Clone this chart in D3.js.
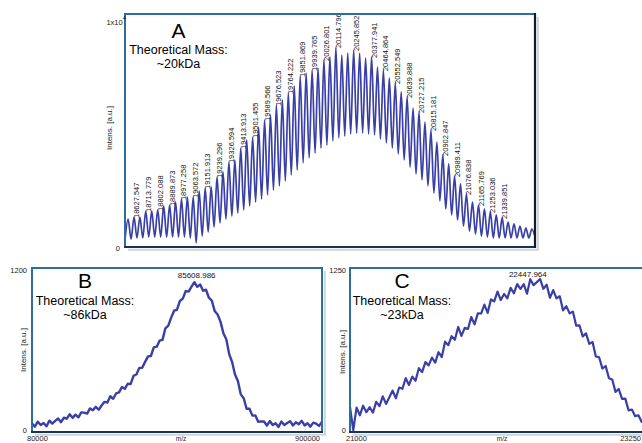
<!DOCTYPE html>
<html>
<head>
<meta charset="utf-8">
<script src="https://cdn.jsdelivr.net/npm/d3@7/dist/d3.min.js"></script>
<style>
  html, body { margin:0; padding:0; background:#fff; }
  svg { display:block; }
  text { font-family: "Liberation Sans", Arial, Helvetica, sans-serif; }
</style>
</head>
<body>
<svg id="chart" width="642" height="443"></svg>
<script>
// ================= DATA =================
// ---- Panel A (m/z trace: alternating peak tops and valleys) ----
const aMz = [18561, 18583.8, 18605.7, 18627.547, 18649.1, 18670.7, 18692.2, 18713.779, 18735.9, 18758.0, 18780.0, 18802.088, 18824.0, 18846.0, 18867.9, 18889.873, 18911.7, 18933.6, 18955.4, 18977.258, 18998.8, 19020.4, 19042.0, 19063.572, 19085.6, 19107.7, 19129.8, 19151.913, 19173.8, 19195.6, 19217.4, 19239.296, 19261.1, 19283.0, 19304.8, 19326.594, 19348.4, 19370.3, 19392.1, 19413.913, 19435.8, 19457.7, 19479.6, 19501.455, 19523.5, 19545.5, 19567.5, 19589.566, 19611.3, 19633.0, 19654.8, 19676.523, 19698.5, 19720.4, 19742.3, 19764.222, 19786.1, 19808.0, 19829.9, 19851.869, 19873.8, 19895.8, 19917.8, 19939.765, 19961.5, 19983.3, 20005.0, 20026.801, 20048.8, 20070.8, 20092.8, 20114.796, 20136.6, 20158.5, 20180.3, 20202.2, 20224.0, 20245.852, 20267.9, 20289.9, 20311.9, 20333.9, 20355.9, 20377.941, 20399.7, 20421.4, 20443.1, 20464.864, 20486.8, 20508.7, 20530.6, 20552.549, 20574.4, 20596.2, 20618.0, 20639.888, 20661.7, 20683.6, 20705.4, 20727.215, 20749.2, 20771.2, 20793.2, 20815.181, 20837.1, 20859.0, 20880.9, 20902.847, 20924.5, 20946.1, 20967.8, 20989.411, 21011.3, 21033.1, 21055.0, 21076.838, 21099.1, 21121.3, 21143.5, 21165.769, 21187.6, 21209.4, 21231.2, 21253.036, 21274.7, 21296.4, 21318.1, 21339.851, 21361.7, 21383.6, 21405.5, 21427.4, 21449.2, 21471.1, 21493.0, 21514.9, 21536.7, 21558.6, 21582];
const aIntens = [260, 1170, 300, 1260, 350, 1260, 350, 1520, 390, 1520, 390, 1570, 390, 1740, 390, 1780, 390, 1910, 390, 2040, 390, 2130, 350, 2130, 130, 2390, 430, 2520, 610, 2570, 830, 3000, 1000, 3220, 1170, 3650, 1300, 3740, 1430, 4260, 1570, 4610, 1740, 4740, 1910, 5170, 2040, 5480, 2220, 5700, 2430, 6130, 2610, 6350, 2830, 6650, 3090, 6960, 3300, 7390, 3610, 7520, 3830, 7650, 4040, 7740, 4260, 8090, 4390, 8220, 4570, 8650, 4700, 8300, 4780, 8390, 4870, 8520, 4910, 8390, 4910, 8170, 4870, 8220, 4830, 7780, 4650, 7650, 4480, 7300, 4260, 7090, 4000, 6700, 3740, 6480, 3430, 6000, 3130, 5830, 2870, 5390, 2610, 5040, 2300, 4520, 1960, 3960, 1610, 3570, 1350, 3040, 1130, 2700, 870, 2260, 650, 1910, 520, 1780, 430, 1610, 390, 1480, 350, 1350, 350, 1220, 350, 1040, 350, 960, 350, 870, 350, 780, 350, 740, 400];
const aPeakLabels = ["18627.547", "18713.779", "18802.088", "18889.873", "18977.258", "19063.572", "19151.913", "19239.296", "19326.594", "19413.913", "19501.455", "19589.566", "19676.523", "19764.222", "19851.869", "19939.765", "20026.801", "20114.796", "20245.852", "20377.941", "20464.864", "20552.549", "20639.888", "20727.215", "20815.181", "20902.847", "20989.411", "21076.838", "21165.769", "21253.036", "21339.851"];
const aYTicks = [0, 10000];
const aTitle = ["A", "Theoretical Mass:", "~20kDa"];

// ---- Panel B ----
const bMzStart = 80000;
const bMzStep = 100;
const bIntens = [50, 25, 62, 37, 52, 28, 70, 48, 68, 86, 59, 92, 85, 118, 91, 115, 95, 132, 130, 123, 162, 148, 174, 152, 184, 211, 206, 253, 234, 274, 282, 322, 309, 347, 344, 406, 416, 466, 467, 511, 552, 555, 620, 625, 670, 676, 763, 783, 843, 895, 902, 968, 985, 1042, 1038, 1075, 1108, 1074, 1092, 1044, 1052, 992, 971, 892, 866, 813, 726, 681, 569, 510, 417, 368, 267, 238, 159, 159, 108, 110, 62, 65, 64, 33, 67, 38, 50, 23, 64, 38, 53, 66, 34, 58, 43, 69, 34, 51, 25, 55, 47, 31, 62];
const bXTicks = [80000, 90000];
const bXTickLabels = ["80000", "900000"];
const bYTicks = [0, 1200];
const bPeakMz = 85608.986;
const bPeakLabel = "85608.986";
const bTitle = ["B", "Theoretical Mass:", "~86kDa"];

// ---- Panel C ----
const cMzStart = 21000;
const cMzStep = 25;
const cIntens = [180, 0, 175, 115, 190, 139, 178, 136, 220, 186, 263, 204, 255, 308, 248, 332, 322, 405, 352, 417, 385, 483, 452, 530, 505, 566, 527, 608, 570, 690, 663, 733, 705, 805, 735, 798, 790, 883, 825, 911, 910, 980, 915, 1020, 1005, 1081, 1015, 1063, 1028, 1110, 1068, 1140, 1102, 1140, 1065, 1178, 1132, 1155, 1180, 1103, 1135, 1033, 1093, 1028, 1045, 934, 968, 911, 925, 816, 818, 731, 755, 673, 687, 575, 568, 480, 500, 405, 395, 298, 320, 243, 245, 153, 160, 108, 115, 63, 65];
const cXTicks = [21000, 23250];
const cXTickLabels = ["21000", "23250"];
const cYTicks = [0, 1250];
const cPeakMz = 22447.964;
const cPeakLabel = "22447.964";
const cTitle = ["C", "Theoretical Mass:", "~23kDa"];

const yAxisTitle = "Intens. [a.u.]";
const xAxisTitle = "m/z";

// ================= DRAW =================
const svg = d3.select("#chart");
const defs = svg.append("defs");
const lineColor = "#3a3fa6";
const tickColor = "#222";

function clip(id, x0, y0, x1, y1) {
  defs.append("clipPath").attr("id", id).append("rect")
    .attr("x", x0).attr("y", y0).attr("width", x1 - x0).attr("height", y1 - y0);
  return "url(#" + id + ")";
}

function drawFrame(x0, y0, x1, y1, darkRight) {
  const g = svg.append("g");
  g.append("path")
    .attr("d", `M${x1 + 2.8},${y0 + 3}V${y1 + 2.8}H${x0 + 3}`)
    .attr("fill", "none").attr("stroke", "#cfd4da").attr("stroke-width", 2);
  g.append("rect").attr("x", x0).attr("y", y0)
    .attr("width", x1 - x0).attr("height", y1 - y0)
    .attr("fill", "none").attr("stroke", "#2d6e9c").attr("stroke-width", 2);
  g.append("line").attr("x1", x0 - 1).attr("x2", x1 + 1).attr("y1", y1).attr("y2", y1)
    .attr("stroke", "#1a3552").attr("stroke-width", 2.2);
  if (darkRight) {
    g.append("line").attr("x1", x1).attr("x2", x1).attr("y1", y0 - 1).attr("y2", y1 + 1)
      .attr("stroke", "#121d29").attr("stroke-width", 2.2);
  }
}

function drawTitle(lines, cx, yLetter, yLine1, yLine2) {
  svg.append("text").attr("x", cx).attr("y", yLetter).attr("text-anchor", "middle")
    .attr("font-size", 21).attr("fill", "#000").text(lines[0]);
  svg.append("text").attr("x", cx).attr("y", yLine1).attr("text-anchor", "middle")
    .attr("font-size", 12.5).attr("fill", "#000").text(lines[1]);
  svg.append("text").attr("x", cx).attr("y", yLine2).attr("text-anchor", "middle")
    .attr("font-size", 12.5).attr("fill", "#000").text(lines[2]);
}

function yTitle(x, cy) {
  svg.append("text").attr("transform", `translate(${x},${cy}) rotate(-90)`)
    .attr("text-anchor", "middle").attr("font-size", 8).attr("fill", tickColor)
    .text(yAxisTitle);
}

// ---------- Panel A ----------
{
  const L = 125, T = 14, R = 535, B = 247;
  const x = d3.scaleLinear().domain([aMz[0], aMz[aMz.length - 1]]).range([L, R]);
  const y = d3.scaleLinear().domain([0, 10000]).range([246, 16]);
  const cp = clip("clipA", L, T, R, B);
  const pts = aMz.map((m, i) => [m, aIntens[i]]);
  const line = d3.line().x(d => x(d[0])).y(d => y(d[1])).curve(d3.curveMonotoneX);
  svg.append("path").attr("clip-path", cp).attr("d", line(pts))
    .attr("fill", "none").attr("stroke", lineColor).attr("stroke-width", 1.7)
    .attr("stroke-linejoin", "round");

  aPeakLabels.forEach(lbl => {
    const m = +lbl;
    const i = aMz.findIndex(v => Math.abs(v - m) < 0.01);
    const px = x(m), py = y(aIntens[i]);
    svg.append("text").attr("transform", `translate(${px + 5},${py + 1}) rotate(-90)`)
      .attr("font-size", 7.5).attr("fill", "#111").text(lbl);
  });

  yTitle(111.5, 128);
  drawFrame(L, T, R, B, true);
  drawTitle(aTitle, 178.5, 38, 54, 68);

  // y ticks (drawn after frame so the exponent stays visible)
  svg.append("text").attr("x", 120).attr("y", y(aYTicks[0]) + 5).attr("text-anchor", "end")
    .attr("font-size", 7.5).attr("fill", tickColor).text(String(aYTicks[0]));
  const topT = svg.append("text").attr("x", 126).attr("y", y(aYTicks[1]) + 9)
    .attr("text-anchor", "end").attr("font-size", 7.5).attr("fill", tickColor);
  topT.append("tspan").text("1x10");
  topT.append("tspan").attr("dy", -5).attr("font-size", 6)
    .text(String(Math.log10(aYTicks[1])));
}

// ---------- Panel B ----------
{
  const L = 32, T = 268, R = 322, B = 432;
  const x = d3.scaleLinear().domain([bXTicks[0], bXTicks[1]]).range([L, R]);
  const y = d3.scaleLinear().domain([0, 1200]).range([430, 270]);
  const cp = clip("clipB", L, T, R, B);
  const pts = bIntens.map((v, i) => [bMzStart + i * bMzStep, v]);
  const line = d3.line().x(d => x(d[0])).y(d => y(d[1]));
  svg.append("path").attr("clip-path", cp).attr("d", line(pts))
    .attr("fill", "none").attr("stroke", lineColor).attr("stroke-width", 2.4)
    .attr("stroke-linejoin", "round");

  svg.append("text").attr("x", x(bPeakMz) + 2).attr("y", 278).attr("text-anchor", "middle")
    .attr("font-size", 8).attr("fill", "#111").text(bPeakLabel);

  bYTicks.forEach(v => {
    svg.append("text").attr("x", 27).attr("y", y(v) + 3).attr("text-anchor", "end")
      .attr("font-size", 7.5).attr("fill", tickColor).text(String(v));
  });
  svg.append("text").attr("x", x(bXTicks[0]) - 5).attr("y", 440.5).attr("text-anchor", "start")
    .attr("font-size", 7.5).attr("fill", tickColor).text(bXTickLabels[0]);
  svg.append("text").attr("x", x(bXTicks[1]) - 2).attr("y", 440.5).attr("text-anchor", "end")
    .attr("font-size", 7.5).attr("fill", tickColor).text(bXTickLabels[1]);
  svg.append("text").attr("x", (L + R) / 2 + 4).attr("y", 440.5).attr("text-anchor", "middle")
    .attr("font-size", 6.5).attr("fill", tickColor).text(xAxisTitle);

  yTitle(25.5, 350);
  drawFrame(L, T, R, B, false);
  drawTitle(bTitle, 85, 288, 305, 319);
}

// ---------- Panel C ----------
{
  const L = 350, T = 268, R = 645, B = 432;
  const x = d3.scaleLinear().domain([cXTicks[0], cXTicks[1]]).range([L, R]);
  const y = d3.scaleLinear().domain([0, 1250]).range([430, 270]);
  const cp = clip("clipC", L, T, R, B);
  const pts = cIntens.map((v, i) => [cMzStart + i * cMzStep, v]);
  const line = d3.line().x(d => x(d[0])).y(d => y(d[1]));
  svg.append("path").attr("clip-path", cp).attr("d", line(pts))
    .attr("fill", "none").attr("stroke", lineColor).attr("stroke-width", 2.2)
    .attr("stroke-linejoin", "round");

  svg.append("text").attr("x", x(cPeakMz) - 12).attr("y", 277).attr("text-anchor", "middle")
    .attr("font-size", 8).attr("fill", "#111").text(cPeakLabel);

  cYTicks.forEach(v => {
    svg.append("text").attr("x", 346).attr("y", y(v) + 3).attr("text-anchor", "end")
      .attr("font-size", 7.5).attr("fill", tickColor).text(String(v));
  });
  svg.append("text").attr("x", x(cXTicks[0]) - 4).attr("y", 440.5).attr("text-anchor", "start")
    .attr("font-size", 7.5).attr("fill", tickColor).text(cXTickLabels[0]);
  svg.append("text").attr("x", 641).attr("y", 440.5).attr("text-anchor", "end")
    .attr("font-size", 7.5).attr("fill", tickColor).text(cXTickLabels[1]);
  svg.append("text").attr("x", 502).attr("y", 440.5).attr("text-anchor", "middle")
    .attr("font-size", 6.5).attr("fill", tickColor).text(xAxisTitle);

  yTitle(345, 352);
  drawFrame(L, T, R, B, false);
  drawTitle(cTitle, 402, 288, 305, 319);
}
</script>
</body>
</html>
